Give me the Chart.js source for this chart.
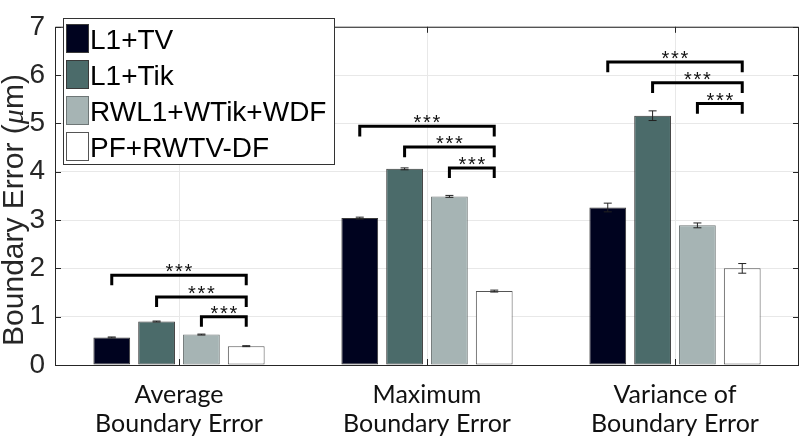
<!DOCTYPE html>
<html>
<head>
<meta charset="utf-8">
<script src="https://cdn.jsdelivr.net/npm/chart.js@4.4.1/dist/chart.umd.min.js"></script>
<style>
html,body{margin:0;padding:0;background:#fff;}
#wrap{width:800px;height:442px;position:relative;}
</style>
</head>
<body>
<div id="wrap"><canvas id="c" width="800" height="442"></canvas></div>
<script>
// ---- data ----
const categories = [['Average','Boundary Error'],['Maximum','Boundary Error'],['Variance of','Boundary Error']];
const seriesNames = ['L1+TV','L1+Tik','RWL1+WTik+WDF','PF+RWTV-DF'];
const l1tv      = [0.57, 3.04, 3.26];
const l1tik     = [0.90, 4.06, 5.16];
const rwl1      = [0.63, 3.49, 2.89];
const pfrwtv    = [0.39, 1.53, 2.00];
const errL1tv   = [0.01, 0.02, 0.09];
const errL1tik  = [0.01, 0.02, 0.10];
const errRwl1   = [0.01, 0.02, 0.05];
const errPfrwtv = [0.01, 0.02, 0.10];
const yTicks = [0,1,2,3,4,5,6,7];
// significance brackets: level for pairs (L1+TV,PF), (L1+Tik,PF), (RWL1,PF) in each group
const bracketLevels = [[1.86,1.41,1.00],[4.94,4.51,4.08],[6.27,5.84,5.41]];
const bracketStars = 3;

const fills = ['#00031f','#4b6b6a','#a6b4b4','#ffffff'];
const edges = ['#3a3a3a','#3a3a3a','#6e7676','#555555'];
const values = [l1tv, l1tik, rwl1, pfrwtv];
const errs = [errL1tv, errL1tik, errRwl1, errPfrwtv];

const AX = '#262626';

const decorPlugin = {
  id: 'decor',
  afterDatasetsDraw(chart) {
    const ctx = chart.ctx;
    const y = chart.scales.y;
    // error bars
    ctx.save();
    ctx.strokeStyle = '#222';
    ctx.lineWidth = 1;
    for (let d = 0; d < values.length; d++) {
      const meta = chart.getDatasetMeta(d);
      meta.data.forEach((bar, j) => {
        const v = values[d][j], e = errs[d][j];
        const yt = y.getPixelForValue(v + e), yb = y.getPixelForValue(v - e);
        ctx.beginPath();
        ctx.moveTo(bar.x, yt); ctx.lineTo(bar.x, yb);
        ctx.moveTo(bar.x - 4, yt); ctx.lineTo(bar.x + 4, yt);
        ctx.moveTo(bar.x - 4, yb); ctx.lineTo(bar.x + 4, yb);
        ctx.stroke();
      });
    }
    ctx.restore();
    // brackets
    ctx.save();
    ctx.strokeStyle = '#000';
    ctx.lineWidth = 3;
    ctx.lineCap = 'butt';
    ctx.fillStyle = '#111';
    ctx.font = '20px "Liberation Sans", Arial, sans-serif';
    ctx.textAlign = 'center';
    ctx.textBaseline = 'alphabetic';
    const last = chart.getDatasetMeta(3);
    for (let g = 0; g < bracketLevels.length; g++) {
      for (let k = 0; k < 3; k++) {
        const lvl = bracketLevels[g][k];
        const x1 = chart.getDatasetMeta(k).data[g].x;
        const x2 = last.data[g].x;
        const yl = y.getPixelForValue(lvl);
        const yd = y.getPixelForValue(lvl - 0.21);
        ctx.beginPath();
        ctx.moveTo(x1, yd); ctx.lineTo(x1, yl); ctx.lineTo(x2, yl); ctx.lineTo(x2, yd);
        ctx.stroke();
        const cxm = (x1 + x2) / 2;
        for (let s = 0; s < bracketStars; s++) {
          ctx.fillText('*', cxm + (s - (bracketStars - 1) / 2) * 9.5, yl + 3);
        }
      }
    }
    ctx.restore();
  },
  afterDraw(chart) {
    const ctx = chart.ctx;
    const a = chart.chartArea;
    const y = chart.scales.y, x = chart.scales.x;
    ctx.save();
    // box
    ctx.strokeStyle = AX;
    ctx.lineWidth = 1;
    ctx.beginPath();
    ctx.moveTo(a.left + 0.5, a.bottom + 0.5);
    ctx.lineTo(a.left + 0.5, a.top + 0.5);
    ctx.lineTo(a.right - 0.5, a.top + 0.5);
    ctx.lineTo(a.right - 0.5, a.bottom + 0.5);
    ctx.lineTo(a.left + 0.5, a.bottom + 0.5);
    ctx.stroke();
    // inward ticks
    ctx.beginPath();
    yTicks.forEach(t => {
      const py = Math.round(y.getPixelForValue(t)) + 0.5;
      ctx.moveTo(a.left, py); ctx.lineTo(a.left + 6, py);
      ctx.moveTo(a.right, py); ctx.lineTo(a.right - 6, py);
    });
    categories.forEach((c, i) => {
      const px = Math.round(x.getPixelForValue(i)) + 0.5;
      ctx.moveTo(px, a.bottom); ctx.lineTo(px, a.bottom - 6);
      ctx.moveTo(px, a.top); ctx.lineTo(px, a.top + 6);
    });
    ctx.stroke();
    // legend
    const lx = 63, ly = 18, lw = 271, lh = 146;
    ctx.fillStyle = '#fff';
    ctx.fillRect(lx, ly, lw, lh);
    ctx.strokeStyle = '#333';
    ctx.strokeRect(lx + 0.5, ly + 0.5, lw, lh);
    ctx.font = '28px "Liberation Sans", Arial, sans-serif';
    ctx.textBaseline = 'alphabetic';
    ctx.textAlign = 'left';
    seriesNames.forEach((n, i) => {
      const ry = 24 + i * 36;
      ctx.fillStyle = fills[i];
      ctx.fillRect(66, ry, 22, 28);
      ctx.strokeStyle = edges[i];
      ctx.strokeRect(66.5, ry + 0.5, 22, 28);
      ctx.fillStyle = '#000';
      ctx.fillText(n, 90, ry + 25);
    });
    // y title
    ctx.save();
    ctx.translate(23, 210);
    ctx.rotate(-Math.PI / 2);
    ctx.fillStyle = AX;
    const f1 = '30px "Liberation Sans", Arial, sans-serif';
    const f2 = 'italic 30px "Liberation Serif", "Times New Roman", serif';
    const parts = [['Boundary Error (', f1], ['\u03bc', f2], ['m)', f1]];
    let total = 0;
    parts.forEach(p => { ctx.font = p[1]; total += ctx.measureText(p[0]).width; });
    let cx = -total / 2;
    ctx.textAlign = 'left';
    ctx.textBaseline = 'alphabetic';
    parts.forEach(p => { ctx.font = p[1]; ctx.fillText(p[0], cx, 0); cx += ctx.measureText(p[0]).width; });
    ctx.restore();
    ctx.restore();
  }
};

new Chart(document.getElementById('c'), {
  type: 'bar',
  data: {
    labels: categories,
    datasets: seriesNames.map((n, i) => ({
      label: n,
      data: values[i],
      backgroundColor: fills[i],
      borderColor: edges[i],
      borderWidth: 1,
      borderSkipped: false,
      categoryPercentage: 0.723,
      barPercentage: 0.82
    }))
  },
  options: {
    responsive: false,
    animation: false,
    devicePixelRatio: 1,
    layout: { padding: { top: 8, right: 1, left: 0, bottom: 0 } },
    plugins: { legend: { display: false }, tooltip: { enabled: false } },
    scales: {
      x: {
        grid: { display: true, offset: false, color: '#e8e8e8', drawTicks: false },
        border: { display: false },
        ticks: { font: { family: 'Lato, "Open Sans", sans-serif', size: 25, lineHeight: 1.15 }, color: '#111', padding: 16, maxRotation: 0 },
        afterFit(s) { s.height = 77; }
      },
      y: {
        min: 0, max: 7,
        afterBuildTicks(s) { s.ticks = yTicks.map(v => ({ value: v })); },
        grid: { color: '#e8e8e8', drawTicks: false },
        border: { display: false },
        ticks: { font: { family: '"Liberation Sans", Arial, sans-serif', size: 28 }, color: AX, padding: 10 },
        afterFit(s) { s.width = 55; }
      }
    }
  },
  plugins: [decorPlugin]
});
</script>
</body>
</html>
